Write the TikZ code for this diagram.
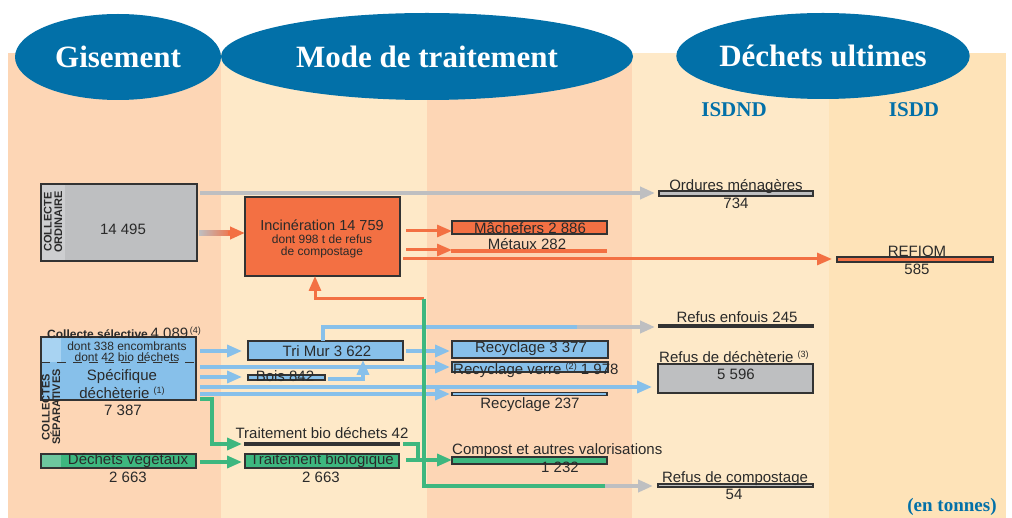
\documentclass[tikz,border=0pt]{standalone}
\usepackage{fontspec}
\setmainfont{Liberation Sans}
\newfontfamily\hdrfont{Liberation Serif}
\usetikzlibrary{arrows.meta,shapes.geometric,calc}
\definecolor{hblue}{HTML}{0270A8}
\definecolor{salmon}{HTML}{FDD6B5}
\definecolor{cream}{HTML}{FEE9C8}
\definecolor{creamB}{HTML}{FEE3B8}
\definecolor{bgray}{HTML}{BEBFC1}
\definecolor{lgray}{HTML}{CDCED0}
\definecolor{borange}{HTML}{F37043}
\definecolor{bblue}{HTML}{87C0EA}
\definecolor{lblue}{HTML}{A8D3F2}
\definecolor{bgreen}{HTML}{3DB77F}
\definecolor{lgreen}{HTML}{6DC79E}
\definecolor{txt}{HTML}{2A2A2A}
\definecolor{edge}{HTML}{333333}
\newcommand\mybox[6]{\node[box, fill=#6, minimum width={(#4)-(#2)}, minimum height={(#5)-(#3)}] (#1) at ({((#2)+(#4))/2},{((#3)+(#5))/2}) {};}
\newcommand\sups[1]{\raisebox{5pt}{\fontsize{9}{9}\selectfont(#1)}}
\begin{document}
\begin{tikzpicture}[x=1pt,y=-1pt,
  box/.style={draw=edge, line width=1.1pt, inner sep=0pt, outer sep=0pt, rectangle},
  lbl/.style={inner sep=0pt, text=txt, font=\fontsize{15}{15}\selectfont},
  smalllbl/.style={inner sep=0pt, text=txt, font=\fontsize{12}{12}\selectfont},
  hdr/.style={ellipse, fill=hblue, text=white, inner sep=0pt, font=\hdrfont\bfseries\fontsize{31}{31}\selectfont},
  subhdr/.style={text=hblue, inner sep=0pt, font=\hdrfont\bfseries\fontsize{21}{21}\selectfont},
  vlbl/.style={rotate=90, align=center, inner sep=0pt, text=txt, font=\bfseries\fontsize{11}{10.5}\selectfont},
  arrowtip/.style={-{Triangle[length=15pt,width=12pt]}},
  arrb/.style={draw=bblue, line width=3.5pt, arrowtip},
  lineb/.style={draw=bblue, line width=3.5pt},
  arro/.style={draw=borange, line width=3pt, arrowtip},
  arrg/.style={draw=bgreen, line width=3.5pt, arrowtip},
  lineg/.style={draw=bgreen, line width=3.5pt},
  arrgr/.style={draw=bgray, line width=4pt, arrowtip}]
\useasboundingbox (0,0) rectangle (1012,518);
\fill[white] (0,0) rectangle (1012,518);
\fill[salmon] (8,53) rectangle (221,518);
\fill[cream] (221,53) rectangle (427,518);
\fill[salmon] (427,53) rectangle (632,518);
\fill[cream] (632,53) rectangle (829,518);
\fill[creamB] (829,53) rectangle (1006,518);

% headers
\node[hdr, minimum width=206, minimum height=86] (gis) at (118,57) {Gisement};
\node[hdr, minimum width=412, minimum height=87] (mode) at (427,56.5) {Mode de traitement};
\node[hdr, minimum width=258, minimum height=86] (ult) at (823,56) {Déchets ultimes};
\node[subhdr] (isdnd) at (734,110) {ISDND};
\node[subhdr] (isdd) at (914,110) {ISDD};
\node[subhdr, font=\hdrfont\bfseries\fontsize{19}{19}\selectfont] (tonnes) at (952,507) {(en tonnes)};

% boxes
\mybox{co}{41}{184}{197}{261}{bgray}
\fill[lgray] (41.6,184.6) rectangle (65,260.4);
\mybox{inc}{245}{197}{400}{276}{borange}
\mybox{mach}{452}{221}{607}{234}{borange}
\node[box, draw=borange, fill=borange, minimum width=154, minimum height=2] (metaux) at (529,251) {};
\mybox{om}{659}{191}{813}{196}{bgray}
\mybox{refiom}{837}{257}{993}{262}{borange}
\mybox{enfouis}{659}{325}{813}{327}{edge}
\mybox{dech}{658}{364}{813}{393}{bgray}
\mybox{spec}{41}{337}{196}{400}{bblue}
\fill[lblue] (41.6,337.6) rectangle (61,362);
\draw[edge, line width=0.8pt, dash pattern=on 9pt off 7pt] (41,362) -- (196,362);
\mybox{trimur}{248}{341}{403}{360}{bblue}
\mybox{bois}{248}{375}{325}{380}{bblue}
\mybox{rec1}{452}{341}{608}{358}{bblue}
\mybox{recverre}{452}{362}{608}{372}{bblue}
\mybox{rec237}{452}{392.5}{607}{395.5}{bblue}
\mybox{tbd}{245}{443}{399}{445}{edge}
\mybox{tbio}{245}{454}{399}{468}{bgreen}
\mybox{compost}{452}{457}{607}{464}{bgreen}
\mybox{dv}{41}{454}{196}{468}{bgreen}
\fill[lgreen] (41.6,454.6) rectangle (61,467.4);
\mybox{refcomp}{658}{484}{813}{487}{bgray}

% blue flows
\draw[arrb, shorten <=4pt, shorten >=6pt] (spec.east |- 0,351) -- (trimur.west |- 0,351);
\draw[arrb, shorten <=4pt, shorten >=2pt] (spec.east |- 0,367) -- (recverre.west |- 0,367);
\draw[arrb, shorten <=4pt, shorten >=6pt] (spec.east |- 0,377) -- (bois.west |- 0,377);
\draw[arrb, shorten <=4pt, shorten >=6pt] (spec.east |- 0,387) -- (dech.west |- 0,387);
\draw[arrb, shorten <=4pt, shorten >=2pt] (spec.east |- 0,394) -- (rec237.west |- 0,394);
\draw[arrb, shorten <=3pt, shorten >=2pt] (trimur.east |- 0,351) -- (rec1.west |- 0,351);
\draw[arrb, shorten <=3pt] (bois.east |- 0,379) -| (trimur.south -| 363,0);
\coordinate (j1) at (577,327);
\draw[lineb] (trimur.north -| 323,0) |- (j1);
\draw[arrgr, shorten >=4pt] (j1) -- (enfouis.west |- 0,327);

% gray and orange flows
\draw[arrgr, shorten <=3pt, shorten >=4pt] (co.east |- 0,193) -- (om.west |- 0,193);
\shade[left color=bgray, right color=borange] (199,230.5) rectangle (233,235.5);
\coordinate (gs) at (228,233);
\draw[arro, line width=4.5pt] (gs) -- (inc.west |- 0,233);
\draw[arro, shorten <=6pt] (inc.east |- 0,231) -- (mach.west |- 0,231);
\draw[arro, shorten <=6pt] (inc.east |- 0,250) -- (metaux.west |- 0,250);
\draw[arro, shorten <=3pt, shorten >=5pt] (inc.east |- 0,259) -- (refiom.west |- 0,259);
\coordinate (jg) at (424,299);
\draw[arro] (jg) -| (inc.south -| 315,0);

% green flows
\draw[arrg, shorten <=4pt, shorten >=3pt] (spec.east |- 0,399) -- ++(16,0) |- (tbd.west |- 0,444);
\draw[arrg, shorten <=4pt, shorten >=3pt] (dv.east |- 0,462) -- (tbio.west |- 0,462);
\draw[arrg, shorten <=7pt] (tbio.east |- 0,460) -- (compost.west |- 0,460);
\coordinate (jt) at (418,460);
\draw[lineg, shorten <=4pt] (tbd.east |- 0,444) -| (jt);
\coordinate (jg3) at (605,486);
\draw[lineg] (jg) |- (jg3);
\draw[arrgr, shorten >=5pt] (jg3) -- (refcomp.west |- 0,486);

% texts
\node[vlbl] at (53,222) {COLLECTE\\ORDINAIRE};
\node[lbl] at (123,229) {14 495};
\node[lbl, font=\fontsize{14.5}{14.5}\selectfont] at (322,225) {Incinération 14 759};
\node[smalllbl] at (322,239.5) {dont 998 t de refus};
\node[smalllbl] at (322,252.5) {de compostage};
\node[lbl] at (530,228) {Mâchefers 2 886};
\node[lbl] at (527,244) {Métaux 282};
\node[lbl] at (736,187) {Ordures ménagères};
\node[lbl] at (736,203) {734};
\node[lbl] at (917,251) {REFIOM};
\node[lbl] at (917,269) {585};
\node[lbl] at (737,317) {Refus enfouis 245};
\node[lbl, anchor=west] at (659,357) {Refus de déchèterie \sups{3}};
\node[lbl] at (736,374) {5 596};
\node[lbl] at (327,351) {Tri Mur 3 622};
\node[lbl] at (285,376) {Bois 842};
\node[lbl] at (531,349) {Recyclage 3 377};
\node[lbl, anchor=west] at (453,370) {Recyclage verre \sups{2} 1 978};
\node[lbl] at (530,405) {Recyclage 237};
\node[lbl, anchor=west] at (452,451) {Compost et autres valorisations};
\node[lbl] at (560,467) {1 232};
\node[lbl] at (322,433) {Traitement bio déchets 42};
\node[lbl] at (322,461) {Traitement biologique};
\node[lbl] at (321,477) {2 663};
\node[lbl] at (735,479) {Refus de compostage};
\node[lbl] at (734,494) {54};
\node[anchor=west, inner sep=0pt, text=txt] at (47,333) {{\bfseries\fontsize{12}{12}\selectfont Collecte sélective} {\fontsize{15}{15}\selectfont 4 089}\,\sups{4}};
\node[smalllbl] at (127,346) {dont 338 encombrants};
\node[smalllbl] at (127,357) {dont 42 bio déchets};
\node[lbl] at (122,377) {Spécifique};
\node[lbl] at (122,393) {déchèterie \sups{1}};
\node[lbl] at (123,410) {7 387};
\node[vlbl] at (51,407) {COLLECTES\\SÉPARATIVES};
\node[lbl] at (128,461) {Déchets végétaux};
\node[lbl] at (128,477) {2 663};
\end{tikzpicture}
\end{document}
